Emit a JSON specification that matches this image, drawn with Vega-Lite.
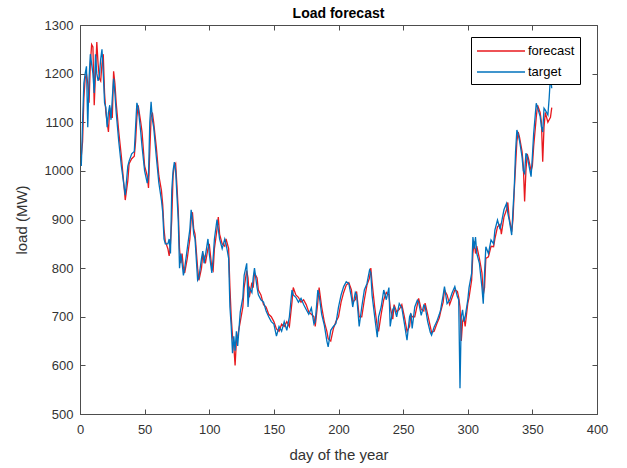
{
  "$schema": "https://vega.github.io/schema/vega-lite/v6.json",
  "width": 517,
  "height": 389,
  "autosize": "none",
  "padding": {"left": 80, "top": 25, "right": 30, "bottom": 54},
  "title": {"text": "Load forecast", "font": "Liberation Sans", "fontSize": 14, "fontWeight": "bold", "color": "#000000", "anchor": "middle", "offset": 5, "dy": 7},
  "data": {"values": [
    {"day":1,"target":1010,"forecast":1030},{"day":2,"target":1100,"forecast":1060},{"day":3,"target":1180,"forecast":1150},{"day":4,"target":1200,"forecast":1190},{"day":5,"target":1215,"forecast":1200},{"day":6,"target":1090,"forecast":1180},{"day":7,"target":1190,"forecast":1140},{"day":8,"target":1240,"forecast":1220},{"day":9,"target":1220,"forecast":1260},{"day":10,"target":1200,"forecast":1255},{"day":11,"target":1160,"forecast":1135},{"day":12,"target":1240,"forecast":1200},{"day":13,"target":1200,"forecast":1265},{"day":14,"target":1185,"forecast":1220},{"day":15,"target":1195,"forecast":1190},{"day":16,"target":1230,"forecast":1185},{"day":17,"target":1250,"forecast":1220},{"day":18,"target":1200,"forecast":1240},{"day":19,"target":1140,"forecast":1160},{"day":20,"target":1130,"forecast":1120},{"day":21,"target":1090,"forecast":1100},{"day":22,"target":1120,"forecast":1080},{"day":23,"target":1135,"forecast":1130},{"day":24,"target":1105,"forecast":1110},{"day":25,"target":1150,"forecast":1110},{"day":26,"target":1190,"forecast":1205},{"day":27,"target":1160,"forecast":1180},{"day":28,"target":1120,"forecast":1140},{"day":30,"target":1060,"forecast":1080},{"day":32,"target":1010,"forecast":1030},{"day":33,"target":990,"forecast":1000},{"day":35,"target":950,"forecast":940},{"day":37,"target":1010,"forecast":980},{"day":38,"target":1020,"forecast":1015},{"day":40,"target":1035,"forecast":1025},{"day":42,"target":1040,"forecast":1030},{"day":43,"target":1090,"forecast":1060},{"day":44,"target":1140,"forecast":1110},{"day":45,"target":1130,"forecast":1135},{"day":47,"target":1080,"forecast":1100},{"day":48,"target":1050,"forecast":1080},{"day":50,"target":1000,"forecast":1010},{"day":52,"target":975,"forecast":990},{"day":53,"target":990,"forecast":965},{"day":54,"target":1100,"forecast":1040},{"day":55,"target":1142,"forecast":1110},{"day":56,"target":1105,"forecast":1120},{"day":57,"target":1090,"forecast":1100},{"day":59,"target":1030,"forecast":1050},{"day":61,"target":975,"forecast":990},{"day":63,"target":940,"forecast":960},{"day":64,"target":915,"forecast":930},{"day":65,"target":860,"forecast":880},{"day":66,"target":850,"forecast":855},{"day":68,"target":850,"forecast":840},{"day":69,"target":860,"forecast":825},{"day":70,"target":830,"forecast":850},{"day":71,"target":960,"forecast":900},{"day":72,"target":1000,"forecast":990},{"day":73,"target":1018,"forecast":1010},{"day":74,"target":1000,"forecast":1015},{"day":75,"target":950,"forecast":970},{"day":76,"target":900,"forecast":920},{"day":77,"target":800,"forecast":840},{"day":78,"target":830,"forecast":810},{"day":79,"target":810,"forecast":830},{"day":80,"target":785,"forecast":800},{"day":81,"target":800,"forecast":790},{"day":83,"target":840,"forecast":820},{"day":85,"target":880,"forecast":860},{"day":86,"target":920,"forecast":900},{"day":87,"target":900,"forecast":915},{"day":88,"target":870,"forecast":880},{"day":89,"target":860,"forecast":870},{"day":91,"target":775,"forecast":800},{"day":92,"target":780,"forecast":775},{"day":94,"target":820,"forecast":800},{"day":95,"target":835,"forecast":830},{"day":96,"target":810,"forecast":825},{"day":97,"target":825,"forecast":810},{"day":99,"target":860,"forecast":840},{"day":100,"target":830,"forecast":850},{"day":102,"target":790,"forecast":800},{"day":103,"target":820,"forecast":795},{"day":104,"target":860,"forecast":840},{"day":106,"target":900,"forecast":880},{"day":107,"target":880,"forecast":905},{"day":108,"target":860,"forecast":870},{"day":110,"target":840,"forecast":850},{"day":112,"target":860,"forecast":845},{"day":113,"target":850,"forecast":860},{"day":115,"target":820,"forecast":840},{"day":116,"target":720,"forecast":760},{"day":117,"target":680,"forecast":700},{"day":118,"target":625,"forecast":660},{"day":119,"target":660,"forecast":640},{"day":120,"target":630,"forecast":600},{"day":121,"target":670,"forecast":650},{"day":122,"target":640,"forecast":660},{"day":124,"target":710,"forecast":690},{"day":126,"target":740,"forecast":720},{"day":127,"target":785,"forecast":760},{"day":129,"target":810,"forecast":795},{"day":130,"target":720,"forecast":780},{"day":131,"target":760,"forecast":740},{"day":133,"target":750,"forecast":770},{"day":134,"target":780,"forecast":760},{"day":135,"target":800,"forecast":790},{"day":137,"target":760,"forecast":780},{"day":138,"target":745,"forecast":755},{"day":140,"target":735,"forecast":745},{"day":142,"target":730,"forecast":725},{"day":144,"target":712,"forecast":720},{"day":146,"target":700,"forecast":705},{"day":148,"target":690,"forecast":700},{"day":150,"target":685,"forecast":690},{"day":152,"target":660,"forecast":675},{"day":154,"target":680,"forecast":670},{"day":156,"target":670,"forecast":685},{"day":158,"target":690,"forecast":680},{"day":160,"target":672,"forecast":690},{"day":162,"target":700,"forecast":680},{"day":164,"target":755,"forecast":730},{"day":165,"target":745,"forecast":760},{"day":167,"target":740,"forecast":745},{"day":169,"target":730,"forecast":740},{"day":171,"target":738,"forecast":730},{"day":173,"target":725,"forecast":735},{"day":175,"target":715,"forecast":725},{"day":177,"target":705,"forecast":710},{"day":179,"target":718,"forecast":705},{"day":181,"target":685,"forecast":700},{"day":182,"target":690,"forecast":680},{"day":184,"target":755,"forecast":730},{"day":185,"target":745,"forecast":760},{"day":187,"target":705,"forecast":720},{"day":189,"target":683,"forecast":690},{"day":191,"target":650,"forecast":670},{"day":192,"target":638,"forecast":655},{"day":194,"target":672,"forecast":650},{"day":196,"target":680,"forecast":675},{"day":198,"target":686,"forecast":690},{"day":200,"target":720,"forecast":700},{"day":202,"target":745,"forecast":730},{"day":204,"target":762,"forecast":750},{"day":206,"target":772,"forecast":765},{"day":208,"target":768,"forecast":770},{"day":210,"target":740,"forecast":755},{"day":211,"target":720,"forecast":730},{"day":213,"target":750,"forecast":735},{"day":214,"target":745,"forecast":752},{"day":216,"target":680,"forecast":700},{"day":218,"target":720,"forecast":700},{"day":220,"target":755,"forecast":735},{"day":222,"target":768,"forecast":765},{"day":224,"target":796,"forecast":780},{"day":225,"target":790,"forecast":800},{"day":226,"target":744,"forecast":770},{"day":228,"target":700,"forecast":720},{"day":230,"target":658,"forecast":680},{"day":231,"target":700,"forecast":670},{"day":233,"target":720,"forecast":705},{"day":235,"target":755,"forecast":735},{"day":237,"target":735,"forecast":750},{"day":239,"target":760,"forecast":745},{"day":240,"target":680,"forecast":720},{"day":242,"target":715,"forecast":695},{"day":243,"target":720,"forecast":725},{"day":245,"target":700,"forecast":710},{"day":247,"target":727,"forecast":715},{"day":249,"target":718,"forecast":725},{"day":251,"target":686,"forecast":700},{"day":253,"target":652,"forecast":670},{"day":255,"target":700,"forecast":680},{"day":256,"target":707,"forecast":705},{"day":257,"target":676,"forecast":700},{"day":259,"target":720,"forecast":700},{"day":261,"target":734,"forecast":725},{"day":262,"target":730,"forecast":738},{"day":264,"target":703,"forecast":715},{"day":266,"target":724,"forecast":712},{"day":267,"target":722,"forecast":728},{"day":269,"target":690,"forecast":705},{"day":271,"target":668,"forecast":680},{"day":272,"target":662,"forecast":668},{"day":274,"target":679,"forecast":670},{"day":276,"target":690,"forecast":685},{"day":278,"target":705,"forecast":698},{"day":279,"target":714,"forecast":710},{"day":281,"target":745,"forecast":730},{"day":282,"target":762,"forecast":755},{"day":284,"target":727,"forecast":745},{"day":286,"target":734,"forecast":725},{"day":288,"target":750,"forecast":740},{"day":290,"target":762,"forecast":755},{"day":292,"target":741,"forecast":752},{"day":293,"target":735,"forecast":740},{"day":294,"target":553,"forecast":720},{"day":295,"target":700,"forecast":650},{"day":296,"target":714,"forecast":690},{"day":297,"target":690,"forecast":700},{"day":298,"target":700,"forecast":680},{"day":300,"target":734,"forecast":727},{"day":301,"target":760,"forecast":740},{"day":303,"target":789,"forecast":775},{"day":304,"target":864,"forecast":830},{"day":305,"target":840,"forecast":855},{"day":306,"target":864,"forecast":830},{"day":307,"target":830,"forecast":845},{"day":309,"target":810,"forecast":820},{"day":311,"target":760,"forecast":790},{"day":312,"target":727,"forecast":745},{"day":313,"target":790,"forecast":760},{"day":314,"target":844,"forecast":820},{"day":316,"target":830,"forecast":823},{"day":318,"target":858,"forecast":845},{"day":320,"target":850,"forecast":844},{"day":321,"target":878,"forecast":860},{"day":323,"target":899,"forecast":885},{"day":325,"target":880,"forecast":890},{"day":326,"target":892,"forecast":870},{"day":328,"target":920,"forecast":905},{"day":330,"target":933,"forecast":920},{"day":331,"target":913,"forecast":935},{"day":332,"target":900,"forecast":905},{"day":334,"target":868,"forecast":875},{"day":335,"target":920,"forecast":900},{"day":336,"target":967,"forecast":960},{"day":337,"target":1040,"forecast":1010},{"day":338,"target":1084,"forecast":1060},{"day":339,"target":1075,"forecast":1080},{"day":340,"target":1063,"forecast":1070},{"day":342,"target":1029,"forecast":1040},{"day":343,"target":1000,"forecast":1010},{"day":344,"target":995,"forecast":937},{"day":345,"target":1036,"forecast":1000},{"day":346,"target":1030,"forecast":1035},{"day":347,"target":1016,"forecast":1025},{"day":349,"target":988,"forecast":1000},{"day":350,"target":1030,"forecast":1010},{"day":351,"target":1077,"forecast":1050},{"day":353,"target":1139,"forecast":1110},{"day":354,"target":1130,"forecast":1135},{"day":356,"target":1112,"forecast":1120},{"day":357,"target":1091,"forecast":1100},{"day":358,"target":1080,"forecast":1019},{"day":359,"target":1129,"forecast":1090},{"day":360,"target":1125,"forecast":1120},{"day":362,"target":1115,"forecast":1100},{"day":363,"target":1150,"forecast":1105},{"day":364,"target":1195,"forecast":1110},{"day":365,"target":1170,"forecast":1130}
  ]},
  "transform": [{"fold": ["forecast", "target"], "as": ["series", "load"]}],
  "layer": [
    {
      "mark": {"type": "line", "strokeWidth": 1.3, "clip": true},
      "encoding": {
        "x": {"field": "day", "type": "quantitative", "scale": {"domain": [0, 400], "nice": false, "zero": false},
              "axis": {"orient": "bottom", "title": "day of the year", "format": "d", "values": [0,50,100,150,200,250,300,350,400], "tickSize": -5, "labelPadding": 14, "titlePadding": 11}},
        "y": {"field": "load", "type": "quantitative", "scale": {"domain": [500, 1300], "nice": false, "zero": false},
              "axis": {"orient": "left", "title": "load (MW)", "format": "d", "values": [500,600,700,800,900,1000,1100,1200,1300], "tickSize": -5, "labelPadding": 12, "titlePadding": 15}},
        "color": {"field": "series", "type": "nominal", "scale": {"domain": ["forecast", "target"], "range": ["#e8191e", "#0072bd"]},
                  "legend": {"title": null, "orient": "none", "legendX": 391, "legendY": 12, "symbolType": "M-1,0L5,0", "symbolSize": 256, "symbolStrokeWidth": 1.5, "labelFontSize": 13, "labelFont": "Liberation Sans", "labelColor": "#000000", "strokeColor": "#000000", "padding": 5, "rowPadding": 5, "labelOffset": 34, "fillColor": "#ffffff"}}
      }
    },
    {
      "mark": {"type": "line", "opacity": 0},
      "encoding": {
        "x": {"field": "day", "type": "quantitative", "axis": {"orient": "top", "title": null, "labels": false, "values": [0,50,100,150,200,250,300,350,400], "tickSize": -5, "domain": false, "minExtent": 0, "maxExtent": 0}},
        "y": {"field": "load", "type": "quantitative", "axis": {"orient": "right", "title": null, "labels": false, "values": [500,600,700,800,900,1000,1100,1200,1300], "tickSize": -5, "domain": false, "minExtent": 0, "maxExtent": 0}}
      }
    }
  ],
  "resolve": {"axis": {"x": "independent", "y": "independent"}},
  "config": {
    "view": {"stroke": "#4d4d4d", "strokeWidth": 1},
    "axis": {"grid": false, "domainColor": "#4d4d4d", "tickColor": "#4d4d4d", "labelFont": "Liberation Sans", "labelFontSize": 13, "labelColor": "#333333", "titleFont": "Liberation Sans", "titleFontSize": 15, "titleFontWeight": "normal", "titleColor": "#333333", "labelFlush": false, "labelOverlap": false}
  }
}
